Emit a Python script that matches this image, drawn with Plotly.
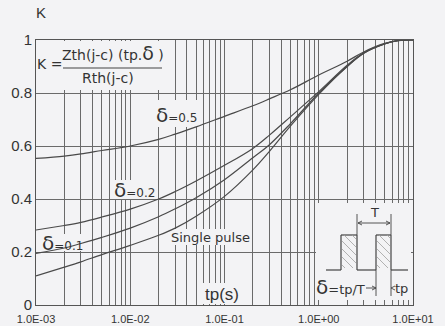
import plotly.graph_objects as go

# ---- data ----
t = [1e-3, 2e-3, 3e-3, 5e-3, 1e-2, 2e-2, 3e-2, 5e-2, 0.1, 0.2, 0.3, 0.5, 1, 2, 3, 5, 7, 10]
k_single = [0.11, 0.143, 0.163, 0.19, 0.225, 0.263, 0.29, 0.335, 0.41, 0.51, 0.58, 0.675, 0.795, 0.90, 0.95, 0.985, 0.998, 1.0]
k_d01 = [0.195, 0.215, 0.232, 0.255, 0.29, 0.333, 0.363, 0.405, 0.473, 0.556, 0.605, 0.684, 0.80, 0.90, 0.95, 0.985, 0.998, 1.0]
k_d02 = [0.283, 0.30, 0.312, 0.332, 0.362, 0.40, 0.428, 0.468, 0.527, 0.591, 0.641, 0.71, 0.805, 0.905, 0.952, 0.986, 0.998, 1.0]
k_d05 = [0.553, 0.562, 0.57, 0.583, 0.60, 0.625, 0.645, 0.672, 0.712, 0.752, 0.778, 0.812, 0.868, 0.92, 0.955, 0.987, 0.998, 1.0]

decades = [1e-3, 1e-2, 1e-1, 1, 10]
x_tick_text = ["1.0E-03", "1.0E-02", "1.0E-01", "1.0E+00", "1.0E+01"]
y_tick_vals = [0, 0.2, 0.4, 0.6, 0.8, 1]
y_tick_text = ["0", "0.2", "0.4", "0.6", "0.8", "1"]

# ---- styling ----
W, H = 445, 326
PL, PR, PT, PB = 36, 413, 40, 305
BG = "#f3f3f5"
GRID = "#6a6a6a"
CURVE = "#4a4a4a"
TXT = "#333333"
FONT = "Liberation Sans, Arial, sans-serif"
LFONT = "DejaVu Sans, sans-serif"
XR = (-3, 1)
YR = (0, 1)


def px(x, y):
    return (x - PL) / (PR - PL), (PB - y) / (PB - PT)


def px_to_data(x, y):
    a, b = px(x, y)
    return 10 ** (XR[0] + a * (XR[1] - XR[0])), YR[0] + b * (YR[1] - YR[0])


grid_vals, grid_text = [], []
for d, lab in zip(decades, x_tick_text):
    grid_vals.append(d)
    grid_text.append(lab)
    if d < 10:
        for m in range(2, 10):
            grid_vals.append(m * d)
            grid_text.append("")

fig = go.Figure()


def mask(x0, y0, x1, y1):
    """background-coloured patch hiding grid lines (drawn under the curves)"""
    (ax, ay), (bx, by) = px_to_data(x0, y0), px_to_data(x1, y1)
    fig.add_trace(go.Scatter(x=[ax, bx, bx, ax, ax], y=[ay, ay, by, by, ay], mode="lines",
                             fill="toself", fillcolor=BG, line=dict(width=0, color=BG),
                             showlegend=False, hoverinfo="skip"))


# masks (grid interrupted behind texts / boxes)
mask(PL + 1, PT + 1, 166, 90)        # formula box
mask(157, 100, 197, 127)             # delta=0.5
mask(113, 180, 155, 199)             # delta=0.2
mask(41, 234, 83, 251)               # delta=0.1
mask(171, 229, 250, 245)             # Single pulse
mask(203, 283, 242, 304)             # tp(s)
mask(316, 203, 411, 300)             # inset

for ys in (k_single, k_d01, k_d02, k_d05):
    fig.add_trace(go.Scatter(x=t, y=ys, mode="lines",
                             line=dict(color=CURVE, width=1.2, shape="spline", smoothing=1.0),
                             showlegend=False, hoverinfo="skip"))

shapes = []
annotations = []


def seg(x0, y0, x1, y1, color="#444", width=1.0):
    a0, b0 = px(x0, y0)
    a1, b1 = px(x1, y1)
    shapes.append(dict(type="line", xref="paper", yref="paper", x0=a0, y0=b0, x1=a1, y1=b1,
                       line=dict(color=color, width=width), layer="above"))


def text(x, y, s, size=12, xanchor="center", family=LFONT):
    a, b = px(x, y)
    annotations.append(dict(xref="paper", yref="paper", x=a, y=b, text=s, showarrow=False,
                            xanchor=xanchor, yanchor="middle",
                            font=dict(family=family, size=size, color=TXT)))


def delta(size):
    return "<span style='font-size:%dpx'>δ</span>" % size


# formula
text(49, 64, "K =", 14)
text(113, 53, "Zth(j-c) (tp." + delta(19) + " )", 14)
seg(63, 68, 162, 68, color="#444", width=1.2)
text(108, 78, "Rth(j-c)", 14)

# K title
text(41, 12, "K", 15, family=FONT)

# curve labels
text(176, 115, delta(20) + "<span style='font-size:12px'>=0.5</span>", 12)
text(134, 190, delta(20) + "<span style='font-size:12px'>=0.2</span>", 12)
text(62, 243, delta(20) + "<span style='font-size:12px'>=0.1</span>", 12)
text(210, 237, "Single pulse", 13)
text(222, 294, "tp(s)", 17, family=FONT)

# inset: pulse train
base, top = 270, 235
pts = [(326, base), (341, base), (341, top), (357, top), (357, base), (376, base),
       (376, top), (391, top), (391, base), (408, base)]
for (xa, ya), (xb, yb) in zip(pts[:-1], pts[1:]):
    seg(xa, ya, xb, yb, color="#444", width=1.2)

# hatching inside pulses (diagonal "\")
for xl, xr in ((341, 357), (376, 391)):
    c = xl - top - 30
    while c < xr - top:
        xs0, ys0 = top + c, top
        xs1, ys1 = base + c, base
        if xs0 < xl:
            ys0 += xl - xs0
            xs0 = xl
        if xs1 > xr:
            ys1 -= xs1 - xr
            xs1 = xr
        if xs1 > xs0 + 1 and ys1 > ys0:
            seg(xs0 + 1, ys0, xs1 - 1, ys1 - 2, color="#a0a0a0", width=0.8)
        c += 8

# T dimension
seg(357, 214, 357, top, color="#444", width=0.9)
seg(391, 214, 391, top, color="#444", width=0.9)
seg(358, 223, 390, 223, color="#444", width=0.9)
seg(358, 223, 362, 221, color="#444", width=0.9)
seg(358, 223, 362, 225, color="#444", width=0.9)
seg(390, 223, 386, 221, color="#444", width=0.9)
seg(390, 223, 386, 225, color="#444", width=0.9)
text(374, 212, "T", 13)

# tp dimension
seg(376, base, 376, 296, color="#444", width=0.9)
seg(391, base, 391, 296, color="#444", width=0.9)
seg(366, 288, 376, 288, color="#444", width=0.9)
seg(376, 288, 372, 286, color="#444", width=0.9)
seg(376, 288, 372, 290, color="#444", width=0.9)
seg(391, 288, 395, 286, color="#444", width=0.9)
seg(391, 288, 395, 290, color="#444", width=0.9)
text(401, 288, "tp", 13)
text(340, 287, delta(20) + "<span style='font-size:13px'>=tp/T</span>", 13)

fig.update_layout(
    width=W, height=H,
    margin=dict(l=PL, r=W - PR, t=PT, b=H - PB, pad=0, autoexpand=False),
    paper_bgcolor=BG, plot_bgcolor=BG,
    font=dict(family=FONT, color=TXT),
    shapes=shapes, annotations=annotations,
    showlegend=False,
)
fig.update_xaxes(type="log", range=list(XR), tickmode="array", tickvals=grid_vals, ticktext=grid_text,
                 showgrid=True, gridcolor=GRID, gridwidth=1, ticks="", zeroline=False,
                 showline=True, linecolor="#555", linewidth=1, mirror=True, automargin=False,
                 ticklabelstandoff=4,
                 tickfont=dict(size=11, family=FONT, color=TXT))
fig.update_yaxes(range=list(YR), tickmode="array", tickvals=y_tick_vals, ticktext=y_tick_text,
                 showgrid=True, gridcolor=GRID, gridwidth=1, ticks="", zeroline=False,
                 showline=True, linecolor="#555", linewidth=1, mirror=True, automargin=False,
                 tickfont=dict(size=15, family=FONT, color=TXT))

fig.write_html("out.html", config={"displayModeBar": False},
               post_script="document.body.style.margin='0';document.body.style.background='%s';" % BG)
